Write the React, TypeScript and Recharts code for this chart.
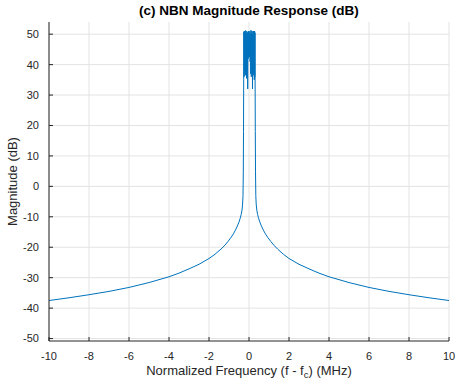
import { LineChart, Line, XAxis, YAxis, CartesianGrid, Label } from 'recharts';

// frequency offset (MHz) and magnitude (dB)
const freqMHz = [
  -10, -9, -8, -7, -6, -5, -4, -3.5, -3, -2.5, -2, -1.7, -1.4, -1.2, -1.05, -0.9,
  -0.78, -0.68, -0.58, -0.5, -0.44, -0.39, -0.35, -0.32, -0.3, -0.285, -0.275, -0.265,
  // passband
  -0.26, -0.245, -0.23, -0.215, -0.2, -0.185, -0.17, -0.155, -0.14, -0.125, -0.11,
  -0.095, -0.08, -0.065, -0.05, -0.035, -0.02, -0.005, 0.01, 0.025, 0.04, 0.055,
  0.07, 0.085, 0.1, 0.115, 0.13, 0.145, 0.16, 0.175, 0.19, 0.205, 0.22, 0.235,
  0.25, 0.265, 0.28, 0.29, 0.3,
  // right skirt
  0.305, 0.315, 0.325, 0.34, 0.36, 0.39, 0.43, 0.48, 0.54, 0.62, 0.72, 0.82, 0.94,
  1.09, 1.24, 1.43, 1.72, 2, 2.5, 3, 3.5, 4, 5, 6, 7, 8, 9, 10,
];

const magnitudeDb = [
  -37.5, -36.6, -35.6, -34.5, -33.2, -31.6, -29.7, -28.5, -27.1, -25.6, -23.7, -22.3,
  -20.6, -19.3, -18.1, -16.8, -15.6, -14.4, -13, -11.7, -10.5, -9.2, -7.8, -5.8, -3, 5,
  18, 35,
  // passband
  50.8, 36, 51, 38, 50.5, 36.5, 51.2, 37, 50, 35.5, 51, 38, 50.6, 32, 49.5, 42, 51, 43,
  50.3, 42.5, 51, 41, 50, 37, 51.3, 36, 50.5, 38, 51, 32, 50, 36.5, 51, 37, 50.5, 35,
  51, 36, 50.5,
  // right skirt
  35, 18, 5, -3, -5.8, -7.8, -9.2, -10.5, -11.7, -13, -14.4, -15.6, -16.8, -18.1, -19.3,
  -20.6, -22.3, -23.7, -25.6, -27.1, -28.5, -29.7, -31.6, -33.2, -34.5, -35.6, -36.6,
  -37.5,
];

const xTicks = [-10, -8, -6, -4, -2, 0, 2, 4, 6, 8, 10];
const yTicks = [-50, -40, -30, -20, -10, 0, 10, 20, 30, 40, 50];

const data = freqMHz.map((f, i) => ({ f, mag: magnitudeDb[i] }));

const textColor = '#262626';
const font = '"Liberation Sans", Arial, Helvetica, sans-serif';

const XLabel = ({ viewBox }: any) => {
  const cx = viewBox.x + viewBox.width / 2;
  return (
    <text x={cx} y={374.5} textAnchor="middle" fill={textColor} fontSize={13} fontFamily={font}>
      Normalized Frequency (f - f
      <tspan fontSize={9.5} dy={3}>c</tspan>
      <tspan dy={-3}>) (MHz)</tspan>
    </text>
  );
};

const YLabel = () => (
  <text
    x={17}
    y={181.5}
    transform="rotate(-90 17 181.5)"
    textAnchor="middle"
    fill={textColor}
    fontSize={13}
    fontFamily={font}
  >
    Magnitude (dB)
  </text>
);

export default function App() {
  return (
    <div style={{ position: 'absolute', left: 0, top: 0, width: 456, height: 382, background: '#fff' }}>
      <div
        style={{
          position: 'absolute',
          top: 3,
          left: 49,
          width: 400,
          textAlign: 'center',
          fontFamily: font,
          fontWeight: 'bold',
          fontSize: 13.5,
          lineHeight: '16px',
          color: '#000',
        }}
      >
        (c) NBN Magnitude Response (dB)
      </div>
      <LineChart width={456} height={382} data={data} margin={{ top: 22, right: 7, bottom: 11, left: 0 }}>
        <CartesianGrid stroke="#e3e3e3" strokeWidth={1} horizontalValues={yTicks} verticalValues={xTicks} />
        <XAxis
          dataKey="f"
          type="number"
          domain={[-10, 10]}
          ticks={xTicks}
          allowDataOverflow
          height={30}
          tickSize={-4}
          tickMargin={15}
          stroke={textColor}
          tick={{ fill: textColor, fontSize: 11, fontFamily: font }}
        >
          <Label content={<XLabel />} />
        </XAxis>
        <XAxis
          xAxisId="top"
          orientation="top"
          dataKey="f"
          type="number"
          domain={[-10, 10]}
          ticks={xTicks}
          height={0}
          tickSize={-4}
          tick={false}
          stroke={textColor}
        />
        <YAxis
          type="number"
          domain={[-50.8, 54]}
          ticks={yTicks}
          allowDataOverflow
          width={49}
          tickSize={-4}
          tickMargin={14}
          stroke={textColor}
          tick={{ fill: textColor, fontSize: 11, fontFamily: font }}
        >
          <Label content={<YLabel />} />
        </YAxis>
        <YAxis
          yAxisId="right"
          orientation="right"
          type="number"
          domain={[-50.8, 54]}
          ticks={yTicks}
          width={0}
          tickSize={-4}
          tick={false}
          stroke={textColor}
        />
        <Line
          type="linear"
          dataKey="mag"
          stroke="#0072BD"
          strokeWidth={1}
          dot={false}
          isAnimationActive={false}
        />
      </LineChart>
    </div>
  );
}
